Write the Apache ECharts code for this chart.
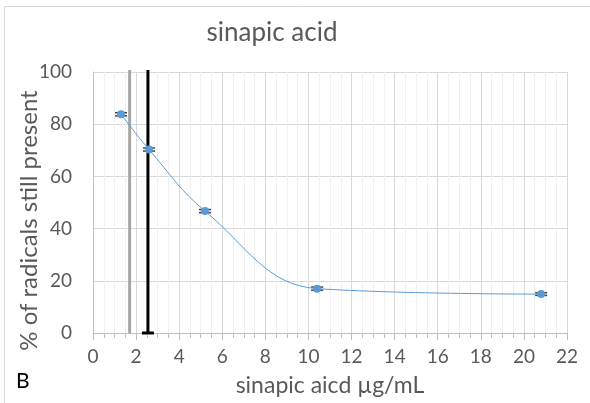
<!DOCTYPE html>
<html>
<head>
<meta charset="utf-8">
<script src="https://cdn.jsdelivr.net/npm/echarts@6/dist/echarts.min.js"></script>
<style>
  html, body { margin: 0; padding: 0; background: #fff; }
  #chart { width: 590px; height: 403px; }
</style>
</head>
<body>
<div id="chart"></div>
<script>
// dados
const concentracoes = [1.3, 2.6, 5.2, 10.4, 20.8];
const radicais = [83.8, 70.3, 46.7, 17.0, 14.9];
const erros = [0.6, 0.6, 0.6, 0.6, 0.5];
// linhas verticais (cinza e preta)
const linhasX = [1.7, 2.55];
const linhasCor = ['#a6a6a6', '#000000'];
const linhasCap = [false, true];

const fonte = 'Lato, "Open Sans", sans-serif';
const grafico = echarts.init(document.getElementById('chart'));

const opcoes = {
  animation: false,
  title: {
    text: 'sinapic acid',
    left: 267,
    top: 15,
    textAlign: 'center',
    textStyle: { color: '#595959', fontSize: 26, fontWeight: 'normal', fontFamily: fonte }
  },
  graphic: [
    {
      type: 'rect',
      shape: { x: 4.5, y: 6.5, width: 600, height: 600 },
      style: { fill: 'none', stroke: '#d9d9d9', lineWidth: 1 },
      silent: true
    },
    {
      type: 'text',
      left: 16,
      top: 371,
      style: { text: 'B', fill: '#000', fontSize: 21, fontFamily: fonte }
    }
  ],
  grid: { left: 93, right: 23, top: 72, bottom: 70, containLabel: false, outerBoundsMode: 'none' },
  xAxis: {
    type: 'value',
    min: 0,
    max: 22,
    interval: 2,
    name: 'sinapic aicd µg/mL',
    nameLocation: 'middle',
    nameGap: 41,
    nameMoveOverlap: false,
    nameTextStyle: { color: '#595959', fontSize: 23, fontFamily: fonte },
    axisLine: { show: true, lineStyle: { color: '#bfbfbf', width: 1 } },
    axisTick: { show: true, length: 7, lineStyle: { color: '#bfbfbf' } },
    minorTick: { show: true, splitNumber: 4, length: 5, lineStyle: { color: '#bfbfbf' } },
    axisLabel: { color: '#595959', fontSize: 19, margin: 14, fontFamily: fonte },
    splitLine: { show: true, lineStyle: { color: '#d9d9d9', width: 1 } },
    minorSplitLine: { show: true, lineStyle: { color: '#f0f0f0', width: 1 } }
  },
  yAxis: {
    type: 'value',
    min: 0,
    max: 100,
    interval: 20,
    name: '% of radicals still present',
    nameLocation: 'middle',
    nameGap: 52,
    nameMoveOverlap: false,
    nameTextStyle: { color: '#595959', fontSize: 24, fontFamily: fonte, padding: [0, 0, 0, -36] },
    axisLine: { show: true, lineStyle: { color: '#bfbfbf', width: 1 } },
    axisTick: { show: false },
    axisLabel: { color: '#595959', fontSize: 19, margin: 21, fontFamily: fonte },
    splitLine: { show: true, lineStyle: { color: '#d9d9d9', width: 1 } }
  },
  series: [
    {
      // linhas verticais
      type: 'custom',
      z: 3,
      data: linhasX.map((x, i) => [x, i]),
      renderItem: function (params, api) {
        const i = api.value(1);
        const topo = api.coord([api.value(0), 100]);
        const base = api.coord([api.value(0), 0]);
        const filhos = [{
          type: 'line',
          shape: { x1: topo[0], y1: topo[1] - 2, x2: base[0], y2: base[1] },
          style: { stroke: linhasCor[i], lineWidth: 3 }
        }];
        if (linhasCap[i]) {
          filhos.push({
            type: 'line',
            shape: { x1: base[0] - 6, y1: base[1], x2: base[0] + 6, y2: base[1] },
            style: { stroke: linhasCor[i], lineWidth: 3 }
          });
        }
        return { type: 'group', children: filhos };
      }
    },
    {
      name: 'radicais',
      type: 'line',
      data: concentracoes.map((x, i) => [x, radicais[i]]),
      smooth: 0.4,
      symbol: 'circle',
      symbolSize: 8,
      z: 5,
      lineStyle: { color: '#5b9bd5', width: 1 },
      itemStyle: { color: '#5b9bd5' }
    },
    {
      // barras de erro
      type: 'custom',
      z: 4,
      data: concentracoes.map((x, i) => [x, radicais[i], erros[i]]),
      renderItem: function (params, api) {
        const x = api.value(0), y = api.value(1), e = api.value(2);
        const a = api.coord([x, y + e]);
        const b = api.coord([x, y - e]);
        const w = 6;
        const st = { stroke: '#404040', lineWidth: 1.5 };
        return {
          type: 'group',
          children: [
            { type: 'line', shape: { x1: a[0], y1: a[1], x2: b[0], y2: b[1] }, style: st },
            { type: 'line', shape: { x1: a[0] - w, y1: a[1], x2: a[0] + w, y2: a[1] }, style: st },
            { type: 'line', shape: { x1: b[0] - w, y1: b[1], x2: b[0] + w, y2: b[1] }, style: st }
          ]
        };
      }
    }
  ]
};

grafico.setOption(opcoes);
window.addEventListener('resize', () => grafico.resize());
</script>
</body>
</html>
